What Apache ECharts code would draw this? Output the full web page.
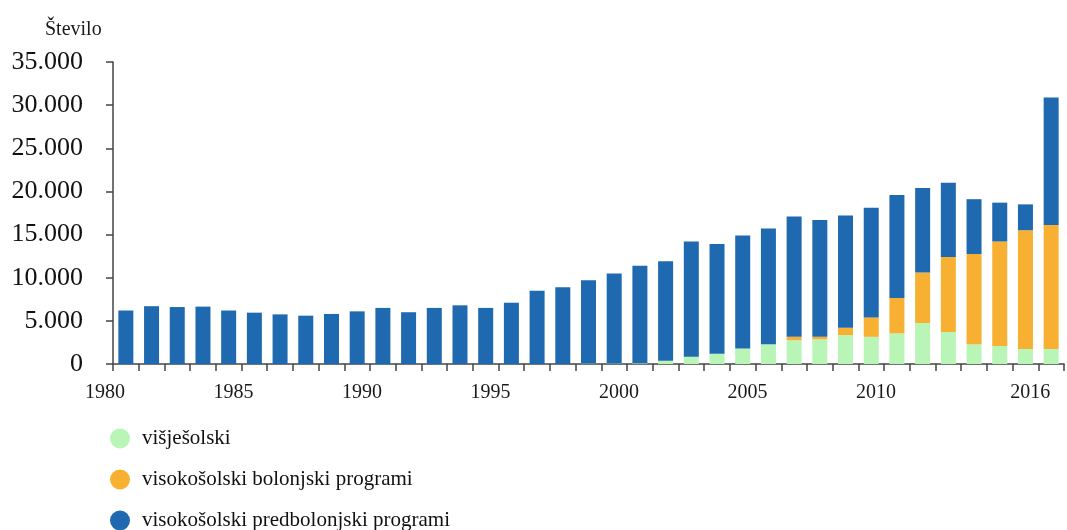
<!DOCTYPE html>
<html>
<head>
<meta charset="utf-8">
<script src="https://cdn.jsdelivr.net/npm/echarts@6/dist/echarts.min.js"></script>
<style>
html,body{margin:0;padding:0;background:#fff;}
#c{width:1067px;height:530px;}
</style>
</head>
<body>
<div id="c"></div>
<script>
const years = [1980,1981,1982,1983,1984,1985,1986,1987,1988,1989,1990,1991,1992,1993,1994,1995,1996,1997,1998,1999,2000,2001,2002,2003,2004,2005,2006,2007,2008,2009,2010,2011,2012,2013,2014,2015,2016];
const visjesolski = [0,0,0,0,0,0,0,0,0,0,0,0,0,0,0,0,0,0,50,60,80,380,850,1200,1800,2300,2750,2850,3350,3150,3550,4750,3700,2300,2100,1750,1750];
const bolonjski = [0,0,0,0,0,0,0,0,0,0,0,0,0,0,0,0,0,0,0,0,0,0,0,0,0,0,400,300,850,2250,4100,5850,8700,10450,12100,13750,14350];
const predbolonjski = [6200,6700,6600,6650,6200,5950,5750,5600,5800,6100,6500,6000,6500,6800,6500,7100,8500,8900,9650,10440,11320,11520,13350,12700,13100,13400,13950,13550,13000,12700,11950,9800,8600,6350,4500,3000,14800];
const labelYears = [1980,1985,1990,1995,2000,2005,2010,2016];
const yTicks = [0,5000,10000,15000,20000,25000,30000,35000];
const seriesNames = ['višješolski','visokošolski bolonjski programi','visokošolski predbolonjski programi'];
const colors = ['#b8f5b6','#f7b031','#1e69b0'];

const serif = '"Liberation Serif","DejaVu Serif",serif';
const chart = echarts.init(document.getElementById('c'));
const fmt = v => String(v).replace(/\B(?=(\d{3})+(?!\d))/g, '.');

chart.setOption({
  animation:false,
  title:{text:'Število', left:40, top:15, textStyle:{fontFamily:serif, fontSize:20, fontWeight:'normal', color:'#1a1a1a'}},
  color: colors,
  legend:{
    orient:'vertical', left:110, top:428, height:140, padding:0, itemGap:20, itemWidth:20, itemHeight:20, icon:'circle',
    textStyle:{fontFamily:serif, fontSize:21, lineHeight:20, color:'#111', padding:[0,0,0,7]},
    data: seriesNames
  },
  grid:{left:113, top:62, bottom:166, width:957},
  xAxis:[
    {type:'category', data:years, show:false, boundaryGap:true},
    {type:'value', min:years[0], max:years[years.length-1]+1, interval:1, position:'bottom',
     axisLine:{show:true, lineStyle:{color:'#444', width:1.5}},
     axisTick:{show:true, length:7, lineStyle:{color:'#444', width:1.5}},
     splitLine:{show:false},
     axisLabel:{show:true, fontFamily:serif, fontSize:20, color:'#1a1a1a', margin:19, padding:[0,16,0,0],
       showMinLabel:true, showMaxLabel:true, interval:0,
       formatter: v => labelYears.indexOf(v) >= 0 ? String(v) : ''}}
  ],
  yAxis:{
    type:'value', min:yTicks[0], max:yTicks[yTicks.length-1], interval:yTicks[1]-yTicks[0],
    axisLine:{show:true, lineStyle:{color:'#444', width:1.5}},
    axisTick:{show:true, length:7, lineStyle:{color:'#444', width:1.5}},
    splitLine:{show:false},
    axisLabel:{fontFamily:serif, fontSize:26, color:'#111', margin:30, formatter: v => fmt(v)}
  },
  series:[
    {name:seriesNames[0], type:'bar', stack:'t', xAxisIndex:0, data:visjesolski, barWidth:15, itemStyle:{color:colors[0]}},
    {name:seriesNames[1], type:'bar', stack:'t', xAxisIndex:0, data:bolonjski, barWidth:15, itemStyle:{color:colors[1]}},
    {name:seriesNames[2], type:'bar', stack:'t', xAxisIndex:0, data:predbolonjski, barWidth:15, itemStyle:{color:colors[2]}}
  ]
});
</script>
</body>
</html>
